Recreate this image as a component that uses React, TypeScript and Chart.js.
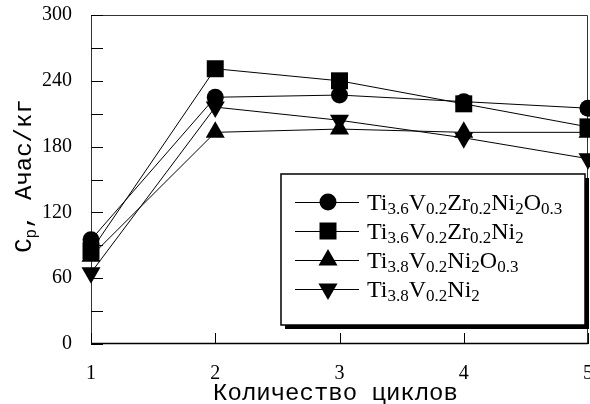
import React, { useEffect, useRef } from 'react';
import { Chart, registerables } from 'chart.js';

Chart.register(...registerables);

const cycles = ['1', '2', '3', '4', '5'];
const seriesCircle = [95, 225, 227, 221, 215];
const seriesSquare = [85, 251, 240, 219, 198];
const seriesTriUp = [80, 193, 196, 193, 193];
const seriesTriDown = [65, 216, 204, 188, 169];
const yMin = 0;
const yMax = 300;
const yStep = 30;
const yLabelStep = 60;
const xTitle = 'Количество циклов';

type Seg = { t: string; sub?: boolean };
const legendItems: { style: string; seg: Seg[] }[] = [
  { style: 'circle', seg: [{ t: 'Ti' }, { t: '3.6', sub: true }, { t: 'V' }, { t: '0.2', sub: true }, { t: 'Zr' }, { t: '0.2', sub: true }, { t: 'Ni' }, { t: '2', sub: true }, { t: 'O' }, { t: '0.3', sub: true }] },
  { style: 'rect', seg: [{ t: 'Ti' }, { t: '3.6', sub: true }, { t: 'V' }, { t: '0.2', sub: true }, { t: 'Zr' }, { t: '0.2', sub: true }, { t: 'Ni' }, { t: '2', sub: true }] },
  { style: 'triangle', seg: [{ t: 'Ti' }, { t: '3.8', sub: true }, { t: 'V' }, { t: '0.2', sub: true }, { t: 'Ni' }, { t: '2', sub: true }, { t: 'O' }, { t: '0.3', sub: true }] },
  { style: 'triangleDown', seg: [{ t: 'Ti' }, { t: '3.8', sub: true }, { t: 'V' }, { t: '0.2', sub: true }, { t: 'Ni' }, { t: '2', sub: true }] },
];
const yTitleSeg: Seg[] = [{ t: 'C' }, { t: 'p', sub: true }, { t: ', Ачас/кг' }];

const SERIF = '"Liberation Serif", "Times New Roman", serif';
const MONO = '"Liberation Mono", "Courier New", monospace';

function drawMarker(ctx: CanvasRenderingContext2D, style: string, x: number, y: number) {
  ctx.beginPath();
  if (style === 'circle') {
    ctx.arc(x, y, 8.5, 0, Math.PI * 2);
  } else if (style === 'rect') {
    ctx.rect(x - 8.5, y - 8.5, 17, 17);
  } else if (style === 'triangle') {
    const r = 11;
    ctx.moveTo(x, y - r);
    ctx.lineTo(x + r * 0.866, y + r / 2);
    ctx.lineTo(x - r * 0.866, y + r / 2);
    ctx.closePath();
  } else {
    const r = 11;
    ctx.moveTo(x, y + r);
    ctx.lineTo(x + r * 0.866, y - r / 2);
    ctx.lineTo(x - r * 0.866, y - r / 2);
    ctx.closePath();
  }
  ctx.fill();
}

const framePlugin = {
  id: 'frame',
  beforeDatasetsDraw(chart: any) {
    const { ctx, chartArea } = chart;
    const { left, right, top, bottom } = chartArea;
    const ys = chart.scales.y;
    const xs = chart.scales.x;
    ctx.save();
    ctx.strokeStyle = '#333';
    ctx.lineWidth = 1;
    ctx.beginPath();
    ctx.moveTo(left + 0.5, bottom);
    ctx.lineTo(left + 0.5, top + 0.5);
    ctx.lineTo(right - 0.5, top + 0.5);
    ctx.lineTo(right - 0.5, bottom);
    ctx.stroke();
    ctx.strokeStyle = '#000';
    ctx.lineWidth = 1.5;
    ctx.beginPath();
    ctx.moveTo(left, bottom - 0.5);
    ctx.lineTo(right, bottom - 0.5);
    ctx.stroke();
    ctx.lineWidth = 1;
    ctx.beginPath();
    for (let v = yMin; v <= yMax; v += yStep) {
      const py = Math.round(ys.getPixelForValue(v)) + 0.5;
      ctx.moveTo(left, py);
      ctx.lineTo(left + 12, py);
    }
    for (let i = 0; i < cycles.length; i++) {
      const px = Math.round(xs.getPixelForValue(i)) + 0.5;
      ctx.moveTo(px, bottom);
      ctx.lineTo(px, bottom - 11);
    }
    ctx.stroke();
    ctx.restore();
  },
};

function segWidth(ctx: CanvasRenderingContext2D, segs: Seg[], mainFont: string, subFont: string) {
  let w = 0;
  for (const s of segs) {
    ctx.font = s.sub ? subFont : mainFont;
    w += ctx.measureText(s.t).width;
  }
  return w;
}

function drawSegs(ctx: CanvasRenderingContext2D, segs: Seg[], x: number, y: number, mainFont: string, subFont: string, subOff: number) {
  let cx = x;
  for (const s of segs) {
    ctx.font = s.sub ? subFont : mainFont;
    ctx.fillText(s.t, cx, s.sub ? y + subOff : y);
    cx += ctx.measureText(s.t).width;
  }
}

const overlayPlugin = {
  id: 'overlay',
  afterDatasetsDraw(chart: any) {
    const { ctx, chartArea } = chart;
    ctx.save();
    // legend box
    const bx = 281, by = 174, bw = 304, bh = 151;
    ctx.fillStyle = '#000';
    ctx.fillRect(bx + 4, by + 4, bw, bh);
    ctx.fillStyle = '#fff';
    ctx.fillRect(bx, by, bw, bh);
    ctx.strokeStyle = '#000';
    ctx.lineWidth = 1.5;
    ctx.strokeRect(bx, by, bw, bh);
    const mainFont = '24px ' + SERIF;
    const subFont = '17px ' + SERIF;
    ctx.textBaseline = 'alphabetic';
    ctx.textAlign = 'left';
    legendItems.forEach((it, i) => {
      const cy = 202 + i * 29;
      ctx.strokeStyle = '#000';
      ctx.lineWidth = 1;
      ctx.beginPath();
      ctx.moveTo(295, cy + 0.5);
      ctx.lineTo(359, cy + 0.5);
      ctx.stroke();
      ctx.fillStyle = '#000';
      drawMarker(ctx, it.style, 328, cy);
      drawSegs(ctx, it.seg, 367, cy + 8, mainFont, subFont, 4);
    });
    // x title
    ctx.font = '24px ' + MONO;
    ctx.fillStyle = '#000';
    ctx.textAlign = 'center';
    ctx.textBaseline = 'alphabetic';
    ctx.fillText(xTitle, (chartArea.left + chartArea.right) / 2 - 4, 400);
    // y title
    ctx.textAlign = 'left';
    const yMain = '24px ' + MONO;
    const ySub = '16px ' + MONO;
    const w = segWidth(ctx, yTitleSeg, yMain, ySub);
    ctx.translate(31, 176);
    ctx.rotate(-Math.PI / 2);
    drawSegs(ctx, yTitleSeg, -w / 2, 0, yMain, ySub, 5);
    ctx.restore();
  },
};

export default function App() {
  const ref = useRef<HTMLCanvasElement>(null);
  useEffect(() => {
    if (!ref.current) return;
    const mk = (data: number[], style: any, radius: number, rotation = 0) => ({
      data,
      borderColor: '#000',
      backgroundColor: '#000',
      borderWidth: 1,
      pointStyle: style,
      pointRadius: radius,
      pointRotation: rotation,
      pointBorderWidth: 0,
      pointBackgroundColor: '#000',
      tension: 0,
      clip: false as any,
    });
    const chart = new Chart(ref.current, {
      type: 'line',
      data: {
        labels: cycles,
        datasets: [
          mk(seriesCircle, 'circle', 8.5),
          mk(seriesSquare, 'rect', 12),
          mk(seriesTriUp, 'triangle', 11),
          mk(seriesTriDown, 'triangle', 11, 180),
        ],
      },
      options: {
        animation: false,
        responsive: false,
        layout: { autoPadding: false, padding: { left: 0, right: 2, top: 15, bottom: 0 } },
        plugins: { legend: { display: false }, tooltip: { enabled: false } },
        scales: {
          x: {
            offset: false,
            grid: { display: false, drawTicks: false },
            border: { display: false },
            ticks: { color: '#000', font: { family: SERIF, size: 20 }, padding: 18, maxRotation: 0, autoSkip: false },
            afterFit: (s: any) => { s.height = 60; s.paddingLeft = 0; s.paddingRight = 0; },
          },
          y: {
            min: yMin,
            max: yMax,
            grid: { display: false, drawTicks: false },
            border: { display: false },
            ticks: {
              stepSize: yStep,
              color: '#000',
              font: { family: SERIF, size: 20 },
              padding: 19,
              callback: (v: any) => (Number(v) % yLabelStep === 0 ? String(v) : ''),
            },
            afterFit: (s: any) => { s.width = 91; s.paddingTop = 0; s.paddingBottom = 0; },
          },
        },
      },
      plugins: [framePlugin, overlayPlugin],
    });
    return () => chart.destroy();
  }, []);
  return (
    <div style={{ position: 'absolute', left: 0, top: 0, width: 590, height: 404, background: '#fff' }}>
      <canvas ref={ref} width={590} height={404} style={{ display: 'block' }} />
    </div>
  );
}
